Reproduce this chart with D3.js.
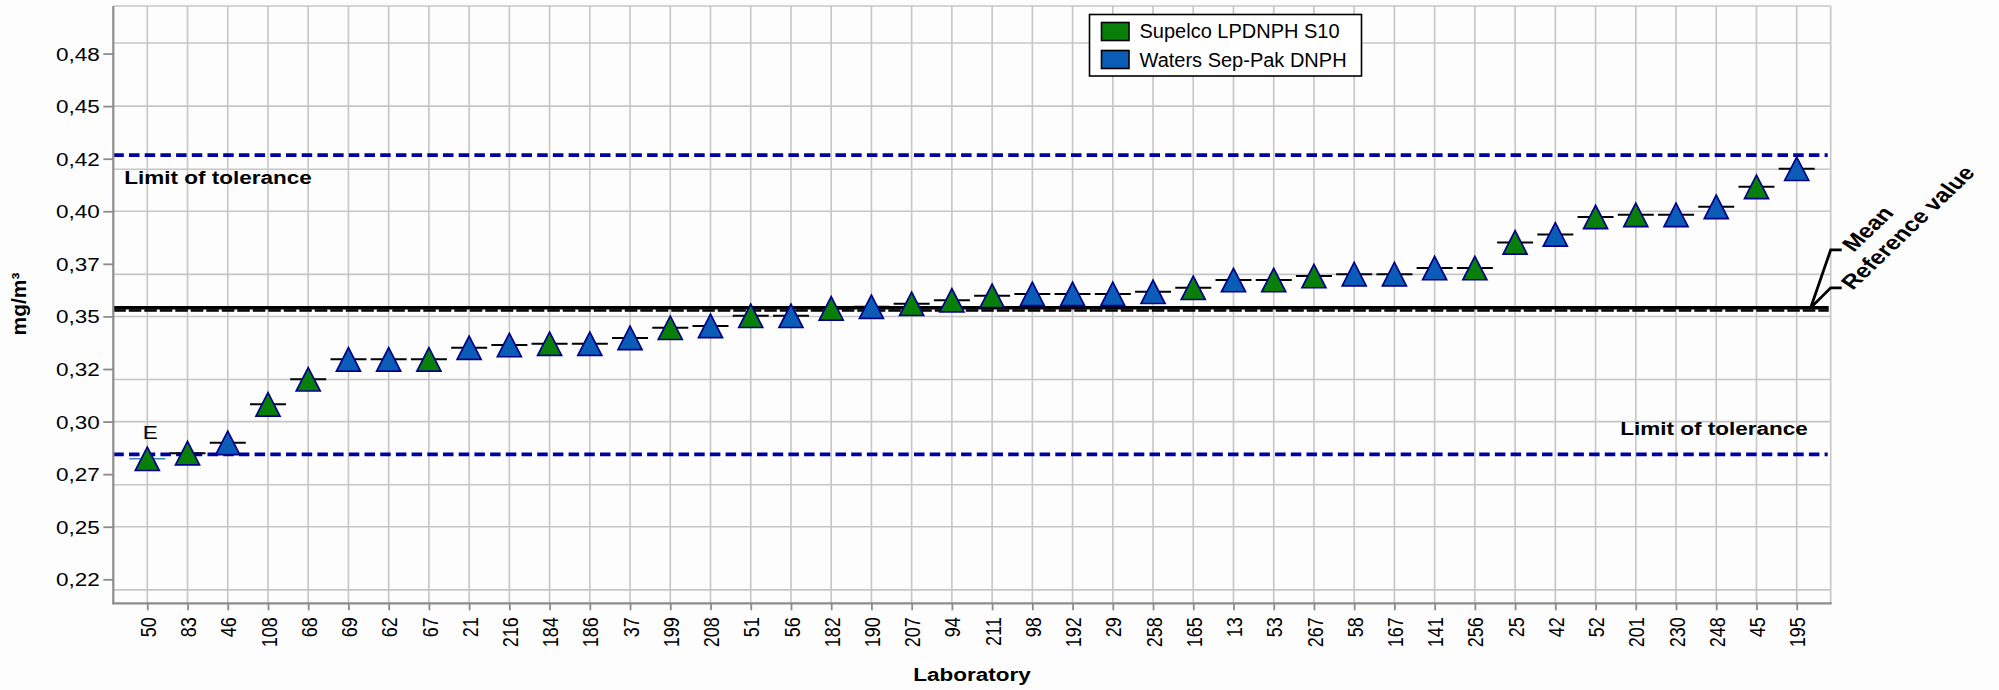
<!DOCTYPE html>
<html>
<head>
<meta charset="utf-8">
<script src="https://cdn.jsdelivr.net/npm/d3@7"></script>
<style>
  body { margin: 0; background: #ffffff; }
  text { font-family: "Liberation Sans", Arial, sans-serif; }
</style>
</head>
<body>
<svg id="chart" width="1999" height="690"></svg>
<script>
// ---------------- data ----------------
const labs = ["50","83","46","108","68","69","62","67","21","216","184","186","37","199","208","51","56","182","190","207","94","211","98","192","29","258","165","13","53","267","58","167","141","256","25","42","52","201","230","248","45","195"];
const values = [0.2823,0.2850,0.2899,0.3082,0.3201,0.3296,0.3296,0.3296,0.3351,0.3364,0.3370,0.3370,0.3398,0.3446,0.3455,0.3503,0.3503,0.3538,0.3546,0.3560,0.3577,0.3598,0.3607,0.3607,0.3607,0.3617,0.3636,0.3673,0.3673,0.3692,0.3701,0.3701,0.3730,0.3730,0.3852,0.3890,0.3973,0.3983,0.3983,0.4021,0.4116,0.4202];
const kits = ["S","S","W","S","S","W","W","S","W","W","S","W","W","S","W","S","W","S","W","S","S","S","W","W","W","W","S","W","S","S","W","W","W","S","S","W","S","S","W","W","S","W"];
const seriesKeys = ["S","W"];
const seriesNames = ["Supelco LPDNPH S10","Waters Sep-Pak DNPH"];
const seriesColors = ["#087f08","#0b5cb6"];
const flags = {"50":"E"};
const yTickValues = [0.225,0.25,0.275,0.30,0.325,0.35,0.375,0.40,0.425,0.45,0.475];
const yTickLabels = ["0,22","0,25","0,27","0,30","0,32","0,35","0,37","0,40","0,42","0,45","0,48"];
const yGridValues = [0.22,0.25,0.27,0.30,0.32,0.35,0.37,0.40,0.42,0.45,0.48];
const upperLimit = 0.4267;
const lowerLimit = 0.2844;
const meanValue = 0.3541;
const refValue = 0.3528;
const yDomain = [0.2136, 0.4976];

// ---------------- layout ----------------
const svg = d3.select("#chart");
const L = 113.3, R = 1830.7, T = 6, B = 603.3;
const SX = "scale(1.25,1)";

const x = d3.scalePoint().domain(labs).range([L, R]).padding(0.845);
const y = d3.scaleLinear().domain(yDomain).range([B, T]);
const color = d3.scaleOrdinal().domain(seriesKeys).range(seriesColors);

svg.append("rect").attr("width",1999).attr("height",690).attr("fill","#fdfdfe");

// grid
const grid = svg.append("g").attr("stroke","#c6c6c6").attr("stroke-width",1.6);
grid.selectAll("line.h").data(yGridValues).join("line")
  .attr("x1",L).attr("x2",R).attr("y1",d=>y(d)).attr("y2",d=>y(d));
grid.selectAll("line.v").data(labs).join("line")
  .attr("x1",d=>x(d)).attr("x2",d=>x(d)).attr("y1",T).attr("y2",B);
grid.append("line").attr("x1",L).attr("x2",R).attr("y1",T).attr("y2",T);
grid.append("line").attr("x1",R).attr("x2",R).attr("y1",T).attr("y2",B);

// limit lines
[upperLimit, lowerLimit].forEach(v => {
  svg.append("line").attr("x1",L).attr("x2",R-3).attr("y1",y(v)).attr("y2",y(v))
    .attr("stroke","#0000a0").attr("stroke-width",3.6).attr("stroke-dasharray","10.5,5.2");
});

// mean & reference lines
svg.append("line").attr("x1",L).attr("x2",R-2).attr("y1",y(refValue)).attr("y2",y(refValue))
  .attr("stroke","#000").attr("stroke-width",2.6).attr("stroke-dasharray","12.5,3");
svg.append("line").attr("x1",L).attr("x2",R-2).attr("y1",y(meanValue)).attr("y2",y(meanValue))
  .attr("stroke","#000").attr("stroke-width",3.4);

// annotation leaders
const ym = y(meanValue);
const lead = svg.append("g").attr("stroke","#000").attr("stroke-width",2.8).attr("fill","none");
lead.append("path").attr("d",`M${R-20},${ym}L${R},${ym-58}L${R+11},${ym-58}`);
lead.append("path").attr("d",`M${R-20},${ym}L${R},${ym-20}L${R+11},${ym-20}`);
svg.append("text").attr("transform",`translate(${R+23},${ym-55}) ${SX} rotate(-50)`)
  .attr("font-weight","bold").attr("font-size",20).attr("fill","#000").text("Mean");
svg.append("text").attr("transform",`translate(${R+22},${ym-17}) ${SX} rotate(-50)`)
  .attr("font-weight","bold").attr("font-size",20).attr("fill","#000").text("Reference value");

// limit labels
svg.append("text").attr("transform",`translate(${L+11},${y(upperLimit)+29}) ${SX}`)
  .attr("font-weight","bold").attr("font-size",18).attr("fill","#000").text("Limit of tolerance");
svg.append("text").attr("transform",`translate(${R-23},${y(lowerLimit)-19}) ${SX}`)
  .attr("text-anchor","end").attr("font-weight","bold").attr("font-size",18).attr("fill","#000").text("Limit of tolerance");

// axes
const yAxis = d3.axisLeft(y).tickValues(yTickValues)
  .tickFormat((d,i)=>yTickLabels[i]).tickSize(10).tickSizeOuter(0);
const gy = svg.append("g").attr("transform",`translate(${L},0)`).call(yAxis);
gy.select(".domain").attr("stroke","#8c8c8c").attr("stroke-width",2.2).attr("d",`M0,${T}V${B+1}`);
gy.selectAll(".tick line").attr("stroke","#8c8c8c").attr("stroke-width",1.8);
gy.selectAll(".tick text").attr("x",null).attr("dy","0.36em")
  .attr("transform",`translate(-13.5,0) ${SX}`)
  .attr("font-size",18).attr("fill","#000").attr("font-family","Liberation Sans, Arial, sans-serif");

const xAxis = d3.axisBottom(x).tickSize(7).tickSizeOuter(0);
const gx = svg.append("g").attr("transform",`translate(0,${B})`).call(xAxis);
gx.select(".domain").attr("stroke","#8c8c8c").attr("stroke-width",2.2).attr("d",`M${L-1},0H${R+1}`);
gx.selectAll(".tick line").attr("stroke","#8c8c8c").attr("stroke-width",1.8);
gx.selectAll(".tick text").attr("y",null).attr("dy","0.36em")
  .attr("transform",`translate(0,14) ${SX} rotate(-90)`)
  .attr("text-anchor","end").attr("font-size",18).attr("fill","#000")
  .attr("font-family","Liberation Sans, Arial, sans-serif");

// point marks: dash + triangle
const pts = labs.map((lab,i)=>({lab, v: values[i], k: kits[i]}));
svg.append("g").selectAll("line").data(pts).join("line")
  .attr("x1",d=>x(d.lab)-18).attr("x2",d=>x(d.lab)+18)
  .attr("y1",d=>y(d.v)).attr("y2",d=>y(d.v))
  .attr("stroke",d=>flags[d.lab] ? "#3d80b8" : "#000")
  .attr("stroke-width",d=>flags[d.lab] ? 1.5 : 2);
svg.append("g").selectAll("path").data(pts).join("path")
  .attr("d",d=>{const cx=x(d.lab), cy=y(d.v);
    return `M${cx},${cy-11.7}L${cx+12},${cy+11.7}L${cx-12},${cy+11.7}Z`;})
  .attr("fill",d=>color(d.k)).attr("stroke","#000088").attr("stroke-width",1.7)
  .attr("stroke-linejoin","miter");

// flags
svg.append("g").selectAll("text").data(pts.filter(d=>flags[d.lab])).join("text")
  .attr("transform",d=>`translate(${x(d.lab)+3},${y(d.v)-20}) ${SX}`)
  .attr("text-anchor","middle").attr("font-size",18).attr("fill","#000")
  .text(d=>flags[d.lab]);

// axis titles
svg.append("text").attr("transform",`translate(${(L+R)/2},681) ${SX}`)
  .attr("text-anchor","middle").attr("font-weight","bold").attr("font-size",18).attr("fill","#000")
  .text("Laboratory");
svg.append("text").attr("transform",`translate(26,304) rotate(-90)`)
  .attr("text-anchor","middle").attr("font-weight","bold").attr("font-size",21).attr("fill","#000")
  .text("mg/m³");

// legend
const lg = svg.append("g").attr("transform","translate(1089.5,14.5)");
lg.append("rect").attr("width",272).attr("height",61.5).attr("fill","#fff")
  .attr("stroke","#000").attr("stroke-width",1.6);
seriesNames.forEach((name,i)=>{
  lg.append("rect").attr("x",12).attr("y",8+i*28).attr("width",27.5).attr("height",18)
    .attr("fill",seriesColors[i]).attr("stroke","#000").attr("stroke-width",1.6);
  lg.append("text").attr("x",50).attr("y",23.5+i*28.5).attr("font-size",20).attr("fill","#000").text(name);
});
</script>
</body>
</html>
